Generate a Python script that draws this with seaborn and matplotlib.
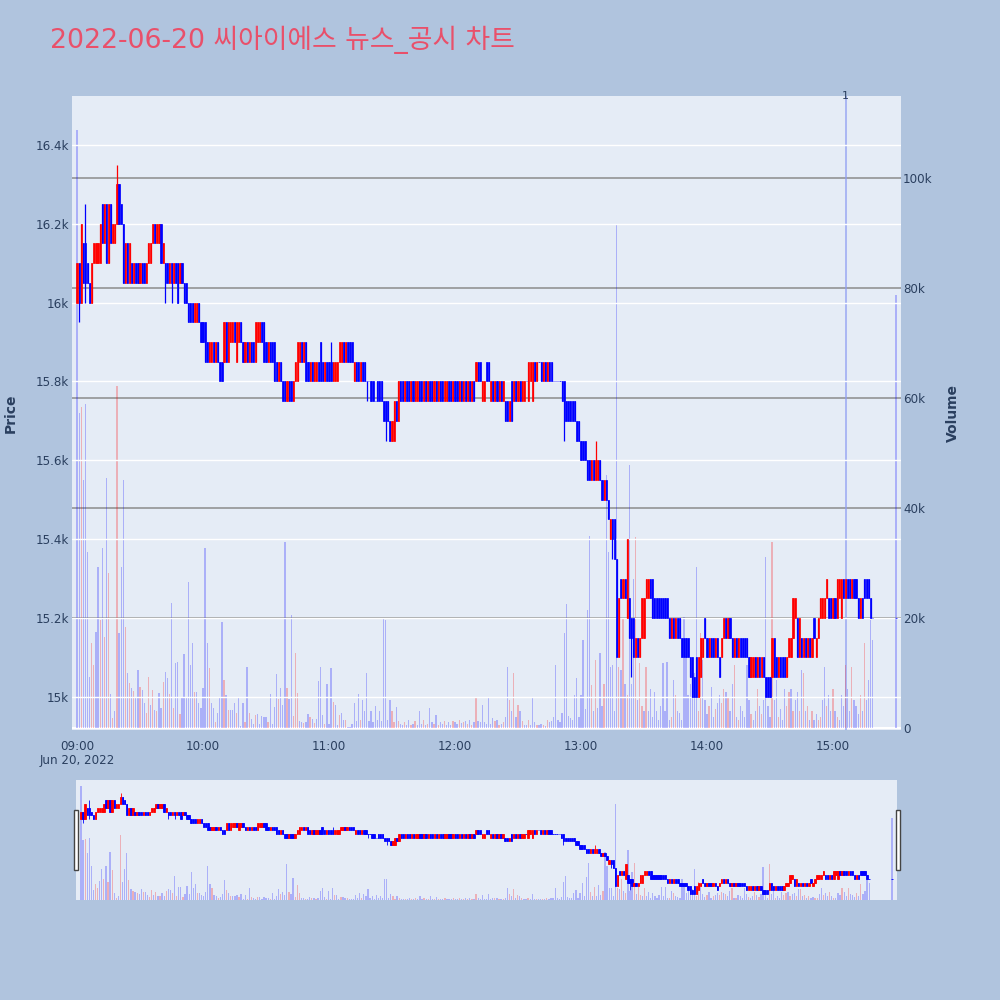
import numpy as np
import pandas as pd
import matplotlib
matplotlib.use("Agg")
import matplotlib.pyplot as plt
import matplotlib.transforms as mtransforms
from matplotlib.patches import Rectangle
import seaborn as sns

# ---------------- data ----------------
title = "2022-06-20 씨아이에스 뉴스_공시 차트"
session_times = list(pd.date_range("2022-06-20 09:00", "2022-06-20 15:19", freq="min")) + \
    [pd.Timestamp("2022-06-20 15:30")]

open_px = [
    16000,16100,16000,16150,16150,16100,16050,16000,16100,16100,
    16100,16100,16250,16150,16250,16100,16250,16150,16150,16200,
    16300,16250,16200,16050,16150,16050,16100,16050,16100,16100,
    16050,16100,16100,16050,16100,16100,16150,16200,16150,16150,
    16200,16100,16100,16100,16050,16100,16050,16100,16100,16050,
    16100,16050,16050,16000,16000,16000,15950,15950,16000,15950,
    15950,15950,15900,15850,15850,15900,15850,15900,15850,15850,
    15850,15950,15850,15900,15900,15950,15850,15900,15950,15900,
    15850,15900,15850,15900,15900,15850,15900,15900,15950,15950,
    15900,15850,15900,15900,15900,15850,15800,15850,15800,15800,
    15750,15800,15800,15750,15800,15800,15850,15900,15850,15900,
    15850,15800,15850,15800,15800,15850,15900,15850,15800,15850,
    15850,15850,15800,15800,15800,15850,15850,15900,15850,15900,
    15900,15900,15800,15850,15850,15800,15850,15850,15800,15800,
    15800,15800,15750,15800,15800,15800,15750,15750,15750,15700,
    15650,15650,15750,15700,15800,15800,15750,15800,15800,15750,
    15800,15750,15750,15800,15800,15750,15800,15750,15800,15800,
    15750,15800,15750,15800,15800,15750,15750,15800,15800,15750,
    15800,15800,15750,15800,15750,15800,15750,15800,15750,15800,
    15800,15850,15850,15750,15750,15850,15850,15750,15800,15750,
    15800,15750,15800,15750,15750,15750,15700,15800,15750,15800,
    15750,15800,15750,15750,15800,15750,15800,15750,15850,15800,
    15850,15850,15800,15850,15800,15850,15850,15800,15800,15800,
    15800,15800,15800,15750,15750,15750,15750,15750,15700,15700,
    15650,15650,15650,15600,15600,15550,15600,15550,15550,15600,
    15550,15500,15550,15500,15400,15450,15450,15350,15100,15300,
    15250,15300,15200,15250,15200,15200,15100,15150,15100,15150,
    15150,15250,15250,15300,15300,15250,15250,15250,15250,15250,
    15250,15250,15200,15150,15200,15150,15200,15200,15150,15150,
    15150,15150,15100,15100,15050,15100,15000,15050,15100,15200,
    15150,15100,15150,15150,15100,15150,15100,15100,15150,15200,
    15150,15200,15150,15100,15150,15100,15150,15150,15150,15150,
    15100,15050,15050,15100,15050,15100,15050,15100,15050,15050,
    15050,15050,15150,15100,15050,15100,15100,15100,15050,15100,
    15100,15150,15200,15200,15100,15150,15100,15150,15100,15150,
    15100,15200,15100,15150,15200,15200,15200,15250,15250,15250,
    15200,15250,15200,15250,15200,15300,15250,15300,15300,15250,
    15300,15300,15250,15200,15250,15300,15300,15300,15250,15200,
    15200]

close_px = [
    16100,16000,16200,16050,16050,16050,16000,16100,16150,16150,
    16150,16200,16150,16250,16100,16250,16150,16200,16200,16300,
    16200,16200,16050,16150,16050,16150,16050,16100,16050,16050,
    16100,16050,16050,16100,16150,16150,16200,16150,16200,16200,
    16100,16150,16050,16050,16100,16050,16100,16050,16000,16100,
    16050,16000,16000,15950,15950,15950,16000,16000,15950,15900,
    15900,15850,15850,15900,15900,15850,15900,15850,15800,15800,
    15950,15850,15950,15950,15950,15900,15950,15950,15900,15850,
    15900,15850,15900,15850,15850,15950,15950,15950,15900,15850,
    15850,15900,15850,15850,15800,15800,15850,15800,15750,15750,
    15800,15750,15750,15800,15850,15900,15900,15850,15900,15800,
    15800,15850,15800,15850,15850,15800,15800,15800,15850,15800,
    15800,15800,15850,15850,15850,15900,15900,15850,15900,15850,
    15850,15850,15850,15800,15800,15850,15800,15800,15800,15800,
    15750,15750,15750,15750,15750,15750,15700,15700,15700,15650,
    15700,15750,15700,15800,15750,15750,15800,15750,15750,15800,
    15750,15800,15800,15750,15750,15800,15750,15800,15750,15750,
    15800,15750,15800,15750,15750,15800,15800,15750,15750,15800,
    15750,15750,15800,15750,15800,15750,15800,15750,15800,15750,
    15850,15800,15800,15800,15800,15800,15800,15800,15750,15800,
    15750,15800,15750,15800,15700,15700,15750,15700,15800,15750,
    15800,15750,15800,15800,15800,15850,15850,15850,15800,15850,
    15850,15800,15850,15800,15850,15800,15800,15800,15800,15800,
    15800,15750,15700,15700,15700,15700,15700,15700,15650,15650,
    15600,15600,15600,15550,15550,15600,15550,15600,15600,15550,
    15500,15550,15500,15450,15450,15400,15350,15100,15250,15250,
    15300,15250,15400,15150,15150,15100,15150,15100,15150,15250,
    15250,15300,15300,15250,15200,15200,15200,15200,15200,15200,
    15200,15200,15150,15200,15150,15200,15150,15150,15100,15100,
    15100,15100,15050,15000,15000,15000,15100,15150,15150,15150,
    15100,15150,15100,15100,15150,15100,15050,15150,15200,15150,
    15200,15150,15100,15150,15100,15150,15100,15100,15100,15100,
    15050,15100,15100,15050,15100,15050,15100,15050,15000,15000,
    15000,15150,15050,15050,15100,15050,15050,15050,15100,15150,
    15150,15250,15250,15100,15200,15100,15150,15100,15150,15100,
    15150,15150,15150,15200,15250,15250,15250,15300,15200,15200,
    15250,15200,15300,15300,15300,15250,15300,15250,15250,15300,
    15250,15250,15200,15250,15200,15250,15250,15250,15200,15200,
    15200]

# wick extremes beyond the candle bodies (index of minute bar -> price)
wick_high = {4: 16250, 19: 16350, 121: 15900, 247: 15650}
wick_low = {1: 15950, 4: 16000, 42: 16000, 45: 16000, 138: 15750,
            147: 15650, 232: 15650, 255: 15350, 264: 15050}

volume_k = [
    108.7,57.3,58.4,45.1,58.9,32,9.3,15.4,11.4,17.5,
    29.3,19.6,32.7,16.6,45.5,28.2,6.2,1.8,3,62.2,
    17.3,29.3,45.1,18.4,10,8.2,7.3,6.8,5.5,10.5,
    7.5,6.9,4.6,2.7,9.3,4.2,6.9,3.3,3,6.3,
    3.6,8.4,10.2,9,6.2,22.7,3.6,11.9,12,2.5,
    5.6,13.5,5.6,26.6,11.5,15.4,6.6,6.5,4.5,3.6,
    7.3,32.7,15.4,10.9,4.6,3.6,1.1,2.7,5.5,19.3,
    8.8,6,3.2,3.2,3.2,4.5,2.7,5.5,0.4,4.6,
    1,11,2.7,1.6,0.8,2.4,2.5,0.8,2.2,2,
    2,1,6.2,0.8,3.8,9.8,5.2,7.3,4.2,33.8,
    7.3,5.2,20.5,2.2,13.6,6.3,1.3,1.1,0.9,1,
    2.5,2,1.6,0.9,1.7,8.6,11,2.4,0.8,8,
    0.8,10.9,4.8,4.2,0.5,2.4,2.8,1.5,1.5,0.2,
    0.2,0.8,4.6,1.2,6.2,1.5,5,3,10,1.2,
    3,1,4,1.5,3,1.2,20,19.6,1.5,5,
    3,1,3.8,1.2,0.8,0.5,1,0.6,1.5,0.5,
    0.8,1.2,0.6,3,0.8,1.5,0.5,0.8,3.6,1,
    0.7,2.4,0.5,1,0.8,1.2,0.6,1,0.5,1.2,
    1,0.7,1.5,0.9,1,1.2,0.8,1.4,0.6,1,
    5.5,1.2,1,4.2,1,0.8,5.5,0.7,1.8,1.2,
    1.5,0.5,0.8,1,2,11,5,3,10,2,
    4.2,3,1.2,0.5,0.6,1.5,0.5,5.5,1,0.6,
    0.5,0.8,0.5,0.4,1.5,1,1.2,2,11.5,1.5,
    1,2.7,17.3,22.5,2.2,1.8,1.5,6,9,2,
    6,16,3.5,21.5,34.9,7.8,3,12.4,3.6,13.6,
    4,8,46,32,11,11.5,3,91.5,11,10.5,
    20,8,6,47.8,8,27,34.7,5,11.8,4,
    3,11,3,7,2,6.5,3,1.5,4,11.8,
    3,12,1.5,2,8.7,6,3,2.8,1.5,20.2,
    13,6,8,6,10,29.3,3,17.3,12.4,5,
    2.5,4,7.5,2,3.5,4.5,6,4.5,7,6.5,
    5.5,3,8,11.5,2,1.5,4,3,2,11.5,
    5,2.5,1.5,3,7,4,2.5,5,31,4,
    2,33.8,5,8.7,2,3.5,1.5,7,4,6.5,
    7,3,5,6.5,3,10.5,10,3,4,1.5,
    3,1.5,2.5,1.5,2,5,11,4,6,3,
    7,3,2,1.5,6,4,11.5,7,3,11,
    5,4,2.5,6,3,15.4,5,8.7,19.6,16,
    78.7]

news_time = pd.Timestamp("2022-06-20 15:06")
news_label = "1"
price_ticks = [15000, 15200, 15400, 15600, 15800, 16000, 16200, 16400]
volume_ticks = [0, 20000, 40000, 60000, 80000, 100000]
hour_labels = ["09:00", "10:00", "11:00", "12:00", "13:00", "14:00", "15:00"]
date_label = "Jun 20, 2022"

assert len(open_px) == len(close_px) == len(volume_k) == len(session_times)

# ---------------- build table ----------------
t0 = pd.Timestamp("2022-06-20 09:00")
minute = np.array([(t - t0).total_seconds() / 60 for t in session_times])
o = np.array(open_px, float)
c = np.array(close_px, float)
hi = np.maximum(o, c)
lo = np.minimum(o, c)
for k, v in wick_high.items():
    hi[k] = v
for k, v in wick_low.items():
    lo[k] = v
df = pd.DataFrame({"minute": minute, "open": o, "close": c, "high": hi, "low": lo,
                   "volume": np.array(volume_k) * 1000})
df["dir"] = np.where(df["close"] > df["open"], "up", "down")
# volume colour follows the change versus the previous bar's close (first bar: down)
prev_close = df["close"].shift(1)
df["vdir"] = np.where(df["close"] > prev_close, "up", "down")
news_min = (news_time - t0).total_seconds() / 60
hour_pos = [(pd.Timestamp("2022-06-20 " + h) - t0).total_seconds() / 60 for h in hour_labels]

# ---------------- style ----------------
sns.set_style("white")
plt.rcParams["font.family"] = ["DejaVu Sans", "Noto Sans CJK KR"]
PAPER = "#B0C4DE"
PLOT_BG = "#E5ECF6"
TXT = "#2a3f5f"
UP, DOWN = "#FF0000", "#0000FF"
pal = {"up": UP, "down": DOWN}

XLIM = (-2.4, 392.4)
PLIM = (14916, 16524)
VLIM = (-364, 114900)

fig = plt.figure(figsize=(10, 10), dpi=100, facecolor=PAPER)


def draw_panel(ax_v, ax_p, lw_body, lw_wick, width):
    sns.histplot(data=df, x="minute", weights="volume", hue="vdir", palette=pal,
                 hue_order=["up", "down"], discrete=True, shrink=0.6, alpha=0.25,
                 linewidth=0, legend=False, multiple="layer", ax=ax_v)
    cols = np.where(df["dir"] == "up", UP, DOWN)
    ax_p.vlines(df["minute"], df["low"], df["high"], colors=cols, lw=lw_wick, zorder=3)
    ax_p.bar(df["minute"], (df["close"] - df["open"]).abs(),
             bottom=np.minimum(df["open"], df["close"]), width=width,
             color=cols, edgecolor=cols, linewidth=lw_body, zorder=4)
    ax_v.set_xlim(*XLIM)
    ax_v.set_ylim(*VLIM)
    ax_p.set_ylim(*PLIM)
    ax_v.set_facecolor(PLOT_BG)
    ax_p.patch.set_visible(False)
    for a in (ax_v, ax_p):
        for s in a.spines.values():
            s.set_visible(False)
        a.set_xlabel("")
        a.set_ylabel("")


# ---- main panel ----
ax_v = fig.add_axes([0.072, 0.270, 0.829, 0.634])
ax_p = ax_v.twinx()
for v in volume_ticks[1:]:
    ax_v.axhline(v, color="#8c8c8c", lw=1.1, zorder=0.5)
ax_v.axhline(0, color="white", lw=1.5, zorder=0.5)
ax_v.axvline(news_min, color="#8f9df2", lw=1.2, alpha=0.8, zorder=0.6)
draw_panel(ax_v, ax_p, lw_body=0.5, lw_wick=0.9, width=0.55)
for p in price_ticks:
    ax_p.axhline(p, color="white", lw=1.0, zorder=0.5)

ax_p.yaxis.tick_left()
ax_v.yaxis.tick_right()
ax_p.set_yticks(price_ticks)
ax_p.set_yticklabels([f"{p/1000:g}k" for p in price_ticks])
ax_v.set_yticks(volume_ticks)
ax_v.set_yticklabels(["0" if v == 0 else f"{v//1000}k" for v in volume_ticks])
ax_v.set_xticks(hour_pos)
ax_v.set_xticklabels([hour_labels[0] + "\n" + date_label] + hour_labels[1:], linespacing=1.15)
for lab in ax_v.get_xticklabels():
    lab.set_verticalalignment("top")
ax_v.tick_params(axis="x", length=0, pad=7, labelsize=8.6, labelcolor=TXT)
ax_v.tick_params(axis="y", length=0, pad=1.5, labelsize=8.6, labelcolor=TXT)
ax_p.tick_params(axis="y", length=0, pad=2, labelsize=8.6, labelcolor=TXT)
ax_v.grid(False)
ax_p.grid(False)

trans = mtransforms.blended_transform_factory(ax_p.transData, ax_p.transAxes)
ax_p.text(news_min, 1.0, news_label, transform=trans, ha="center", va="center",
          fontsize=8, color=TXT)

fig.text(0.011, 0.587, "Price", rotation=90, ha="center", va="center",
         fontsize=10, fontweight="bold", color=TXT)
fig.text(0.953, 0.587, "Volume", rotation=90, ha="center", va="center",
         fontsize=10, fontweight="bold", color=TXT)

fig.text(0.050, 0.960, title, ha="left", va="center", fontsize=19.3,
         color="#E9506A", family=["DejaVu Sans", "Noto Sans CJK KR"])

# ---- range slider ----
sv = fig.add_axes([0.076, 0.100, 0.821, 0.120])
sp = sv.twinx()
draw_panel(sv, sp, lw_body=0.6, lw_wick=0.6, width=0.7)
for a in (sv, sp):
    a.set_xticks([])
    a.set_yticks([])
    a.grid(False)

for xl in (0.0735, 0.8955):
    fig.add_artist(Rectangle((xl, 0.130), 0.0042, 0.060, transform=fig.transFigure,
                             facecolor="white", edgecolor="#444444", lw=1.0, zorder=10))

fig.savefig("out.png", dpi=100, facecolor=PAPER)
